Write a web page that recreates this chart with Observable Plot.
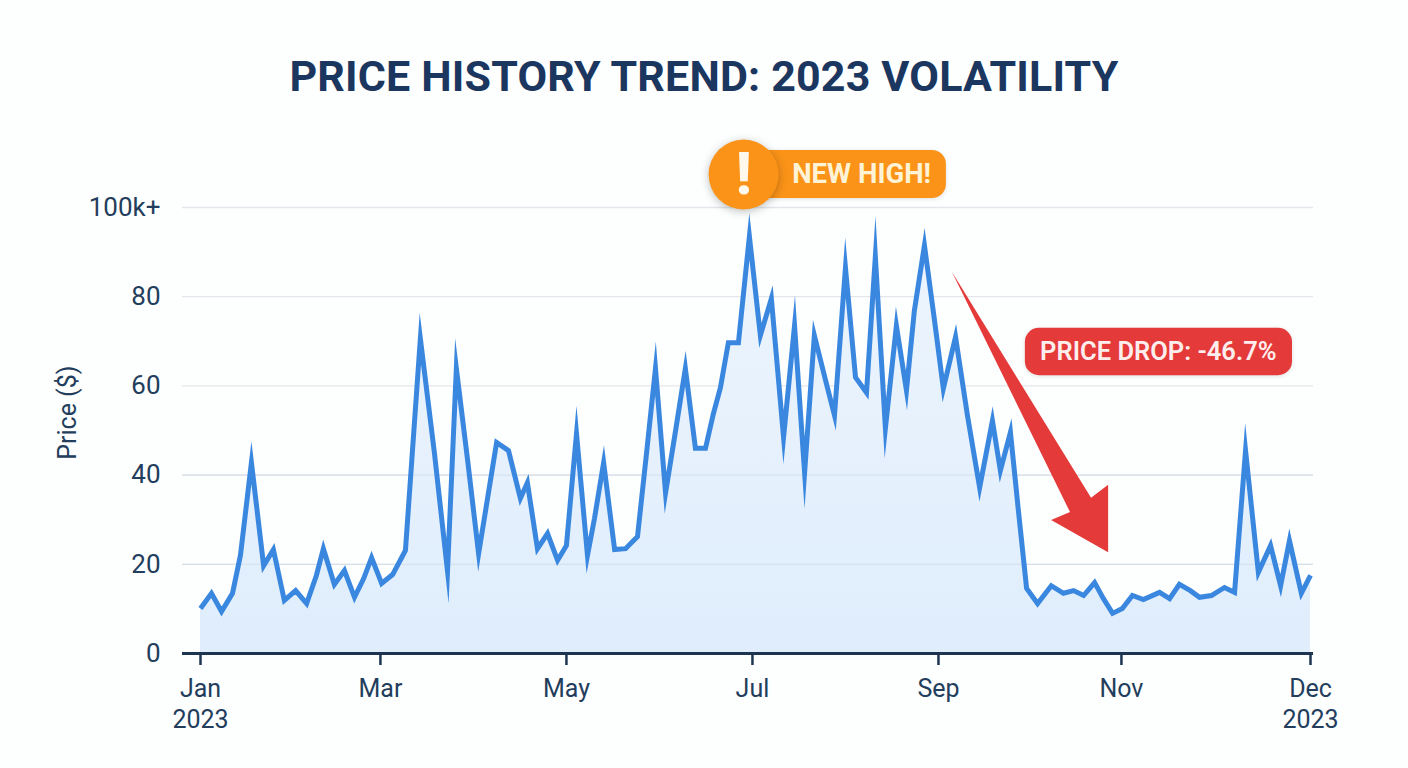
<!DOCTYPE html>
<html><head><meta charset="utf-8">
<script src="https://cdn.jsdelivr.net/npm/d3@7"></script>
<script src="https://cdn.jsdelivr.net/npm/@observablehq/plot@0.6"></script>
<style>
html,body{margin:0;padding:0;background:#fdfefe;width:1408px;height:768px;overflow:hidden}
h1{margin:0;height:120px;box-sizing:border-box;text-align:center;font:700 43px/153px Roboto,sans-serif;color:#1b365f;letter-spacing:.17px}
svg{display:block}
</style></head><body>
<h1>PRICE HISTORY TREND: 2023 VOLATILITY</h1>
<div id="chart"></div>
<script>
const days = [0,3.6,6.9,10.5,13.1,16.7,20.7,23.9,27.5,31.2,34.8,38,40.3,43.9,47.2,50.5,53.5,56.1,59.4,63,67.2,72.1,76.7,81,83.9,87.6,91.2,97.1,101,104.9,107.2,110.5,113.8,117.1,120,123.3,126.9,129.2,132.2,135.8,139.4,141.7,143.3,146.3,149.2,152.5,155.8,159,162.3,165.6,168.2,170.5,173.1,176.4,180,183.6,187.2,191.2,194.8,198.1,201.3,205,207.9,211.5,214.8,218.4,221.3,224.6,228.2,231.5,234.1,237.4,240.7,243.6,247.6,251.5,255.5,259.7,262.3,265.6,268.2,270.9,274.5,279,283,286.3,289.6,293.2,296.1,299.1,302.3,305.6,309.2,314.5,317.8,321,324.6,327.6,331.5,335.8,339.1,342.7,346.9,350.9,354.2,357.1,361,364];
const prices = [10.1,13.5,9.4,13.5,22,42.8,19.7,23.3,11.9,14.1,11.2,17.5,23.5,15.5,18.6,12.6,16.8,21.5,15.7,17.7,23.1,70.6,45,18.5,63.9,43.3,22.4,47.3,45.5,34.8,38.3,23.5,26.9,20.9,24.2,49.3,22,30.3,42.8,23.3,23.5,25.1,26.2,45.1,63.9,36,50,63.9,46,46,53.8,59.6,69.7,69.7,93.5,71.3,79.6,48.5,73.5,40.5,71.3,61.2,53.4,86.5,61.9,58.5,89,50.5,73.5,59,76.9,91.5,74.7,59.4,71,53.4,37.2,52.2,41,49.6,32.1,14.6,11.2,15.2,13.5,14.1,13,15.9,12.3,9,10.1,13,12.1,13.7,12.3,15.5,14.1,12.6,13,14.8,13.7,45.5,18.2,24.2,15.2,25.3,13.5,17.5];
const xTickDays = [0,59,120,181,242,302,364];
const xTickLabels = ["Jan\n2023","Mar","May","Jul","Sep","Nov","Dec\n2023"];
const yTicks = [0,20,40,60,80,100];
const yTickLabels = ["0","20","40","60","80","100k+"];
const arrowDays = [246.6,292.2,297.8,297.8,279.1,285.3];
const arrowPrices = [85.4,34.8,37.7,22.6,29.8,31.6];
const highLabel = "NEW HIGH!";
const dropLabel = "PRICE DROP: -46.7%";
const yLabel = "Price ($)";

const date = d => new Date(Date.UTC(2023,0,1) + d*864e5);
const table = days.map((d,i)=>({date:date(d),price:prices[i]}));
const font = "Roboto, sans-serif";
const ink = "#233d5c", axis = "#1e3552";

const plot = Plot.plot({
  width:1408, height:648,
  marginTop:87, marginBottom:115, marginLeft:200, marginRight:98,
  style:{background:"transparent",fontFamily:font},
  x:{type:"utc",domain:[date(0),date(364)]},
  y:{domain:[0,100]},
  marks:[
    () => { const s = d3.create("svg:defs");
      const g = s.append("linearGradient").attr("id","areaFill").attr("x1",0).attr("x2",0).attr("y1",0).attr("y2",1);
      g.append("stop").attr("offset","0%").attr("stop-color","#edf5fd");
      g.append("stop").attr("offset","100%").attr("stop-color","#dfedfc");
      return s.node(); },
    Plot.ruleY(yTicks.filter(d=>d>0),{y:d=>d,x1:date(-5.9),x2:date(365),stroke:"#e3e6ea",strokeWidth:1.3}),
    Plot.areaY(table,{x:"date",y:"price",fill:"url(#areaFill)"}),
    Plot.ruleY(yTicks.filter(d=>d>0&&d<=40),{y:d=>d,x1:date(-5.9),x2:date(365),stroke:"#c9d6e4",strokeOpacity:.5,strokeWidth:1.2}),
    Plot.lineY(table,{x:"date",y:"price",stroke:"#3a87e0",strokeWidth:5,strokeLinejoin:"miter",strokeMiterlimit:30,strokeLinecap:"butt"}),
    Plot.axisY({ticks:yTicks,tickSize:0,tickPadding:40,fontSize:26,color:ink,tickFormat:d=>yTickLabels[yTicks.indexOf(d)],label:null}),
    Plot.text([yLabel],{x:date(-43.6),y:54,text:d=>d,rotate:-90,fontSize:25,fill:ink,fontFamily:font}),
    Plot.axisX({ticks:xTickDays.map(date),tickSize:12,tickPadding:9,fontSize:25,color:ink,stroke:axis,strokeWidth:2.5,lineHeight:1.24,tickFormat:d=>xTickLabels[xTickDays.indexOf(Math.round((d-date(0))/864e5))],label:null}),
    Plot.ruleY([0],{x1:date(-5.9),x2:date(365),stroke:axis,strokeWidth:3}),
    (index,scales) => { const pts = arrowDays.map((d,i)=>[scales.x(date(d)),scales.y(arrowPrices[i])].join(",")).join(" ");
      return d3.create("svg:polygon").attr("points",pts).attr("fill","#e53a3a").node(); },
    Plot.rect([0],{x1:date(180.4),x2:date(244.6),y1:102,y2:112.8,rx:14,fill:"#fa9318",imageFilter:"drop-shadow(0 1px 2px rgba(0,0,0,.12))"}),
    Plot.dot([0],{x:date(178.1),y:107.4,r:35,fill:"#fb9318",imageFilter:"drop-shadow(0 2px 4px rgba(0,0,0,.25))"}),
    Plot.text(["!"],{x:date(178.1),y:107.4,text:d=>d,fontSize:60,fontWeight:800,fill:"#fff8ec",fontFamily:font}),
    Plot.text([highLabel],{x:date(216.8),y:107.4,text:d=>d,fontSize:27.5,fontWeight:700,fill:"#fff3d6",fontFamily:font}),
    Plot.rect([0],{x1:date(270.5),x2:date(358.1),y1:62.3,y2:72.9,rx:14,fill:"#e53a3a",imageFilter:"drop-shadow(0 1px 2px rgba(0,0,0,.12))"}),
    Plot.text([dropLabel],{x:date(314.1),y:67.6,text:d=>d,fontSize:25.5,fontWeight:600,fill:"#fdeeee",fontFamily:font})
  ]
});
document.getElementById("chart").appendChild(plot);
</script>
</body></html>
